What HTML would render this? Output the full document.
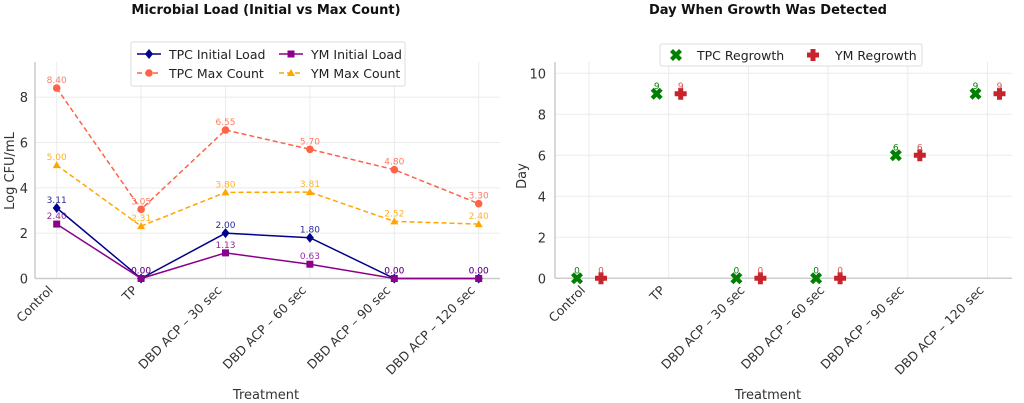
<!DOCTYPE html>
<html><head><meta charset="utf-8"><style>
html,body{margin:0;padding:0;background:#fff;}
svg{display:block;font-family:"DejaVu Sans","Liberation Sans",sans-serif;}
</style></head><body>
<svg id="c" width="1024" height="403" viewBox="0 0 1024 403">
<text x="266" y="14" text-anchor="middle" font-size="13" font-weight="bold" fill="#111">Microbial Load (Initial vs Max Count)</text>
<text x="768" y="14" text-anchor="middle" font-size="13" font-weight="bold" fill="#111">Day When Growth Was Detected</text>
<g id="L"></g><g id="R"></g>
</svg>
<script>
const categories=["Control","TP","DBD ACP – 30 sec","DBD ACP – 60 sec","DBD ACP – 90 sec","DBD ACP – 120 sec"];
const tpcInitial=[3.11,0.00,2.00,1.80,0.00,0.00];
const ymInitial=[2.40,0.00,1.13,0.63,0.00,0.00];
const tpcMax=[8.40,3.05,6.55,5.70,4.80,3.30];
const ymMax=[5.00,2.31,3.80,3.81,2.52,2.40];
const tpcRegrowth=[0,9,0,0,6,9];
const ymRegrowth=[0,9,0,0,6,9];
const leftTicks=[0,2,4,6,8];
const rightTicks=[0,2,4,6,8,10];
const NS="http://www.w3.org/2000/svg";
function mk(p,t,a,txt){const e=document.createElementNS(NS,t);for(const k in a)e.setAttribute(k,a[k]);if(txt!==undefined)e.textContent=txt;p.appendChild(e);return e;}
// left
const L=document.getElementById('L');
const lx=i=>56.7+i*84.4, ly=v=>278.5-v*22.67;
leftTicks.forEach(t=>{let g=mk(L,'line',{x1:35,x2:500,y1:ly(t),y2:ly(t),stroke:'#ebebeb'});


let tx=mk(L,'text',{x:28,y:ly(t)+5,'text-anchor':'end','font-size':13,fill:'#333'},t);

});
categories.forEach((c,i)=>{let g=mk(L,'line',{x1:lx(i),x2:lx(i),y1:62,y2:278.5,stroke:'#ebebeb'});


let tx=mk(L,'text',{x:0,y:0,'text-anchor':'end','font-size':12.5,fill:'#333',transform:`translate(${lx(i)-3},${291}) rotate(-45)`},c);

});
mk(L,'line',{x1:35,x2:500,y1:278.5,y2:278.5,stroke:'#ccc','stroke-width':1.5});
mk(L,'line',{x1:35,x2:35,y1:62,y2:278.5,stroke:'#ccc','stroke-width':1.5});
let yt=mk(L,'text',{x:0,y:0,'text-anchor':'middle','font-size':13,fill:'#333',transform:'translate(14,171) rotate(-90)'},'Log CFU/mL');

let xt=mk(L,'text',{x:266,y:399,'text-anchor':'middle','font-size':13,fill:'#333'},'Treatment');

function marker(p,type,x,y,col){
 if(type==='d')return mk(p,'path',{d:`M${x} ${y-5}L${x+4} ${y}L${x} ${y+5}L${x-4} ${y}Z`,fill:col});
 if(type==='s')return mk(p,'rect',{x:x-3.5,y:y-3.5,width:7,height:7,fill:col});
 if(type==='o')return mk(p,'circle',{cx:x,cy:y,r:3.8,fill:col});
 if(type==='^')return mk(p,'path',{d:`M${x} ${y-4}L${x+4} ${y+3}L${x-4} ${y+3}Z`,fill:col});
}
const series=[[tpcMax,'#ff6347','o','5,3','tpc-max'],[ymMax,'#ffa500','^','5,3','ym-max'],[tpcInitial,'#00008b','d','','tpc-initial'],[ymInitial,'#8b008b','s','','ym-initial']];
series.forEach(([vals,col,m,dash,nm])=>{
 let pl=mk(L,'polyline',{points:vals.map((v,i)=>lx(i)+','+ly(v)).join(' '),fill:'none',stroke:col,'stroke-width':1.5,'stroke-dasharray':dash});
 
 vals.forEach((v,i)=>{let mm=marker(L,m,lx(i),ly(v),col);
 
 let t=mk(L,'text',{x:lx(i),y:ly(v)-5,'text-anchor':'middle','font-size':9,fill:col,opacity:0.85},v.toFixed(2));
 });
});
// left legend
const lg=mk(L,'g',{});
mk(lg,'rect',{x:131,y:42,width:274,height:44,fill:'#fff',stroke:'#ddd',rx:2});
[['TPC Initial Load','#00008b','d','',137,54],['TPC Max Count','#ff6347','o','5,3',137,73],['YM Initial Load','#8b008b','s','',279,54],['YM Max Count','#ffa500','^','5,3',279,73]].forEach(([t,c,m,d,x,y])=>{
 mk(lg,'line',{x1:x,x2:x+24,y1:y,y2:y,stroke:c,'stroke-width':1.5,'stroke-dasharray':d});marker(lg,m,x+12,y,c);
 let e=mk(lg,'text',{x:x+32,y:y+5,'font-size':12.5,fill:'#222'},t);
 });
// right
const R=document.getElementById('R');
const rx=i=>589+i*79.7, ry=v=>278.3-v*20.5;
rightTicks.forEach(t=>{let g=mk(R,'line',{x1:555,x2:1012,y1:ry(t),y2:ry(t),stroke:'#ebebeb'});

let tx=mk(R,'text',{x:546,y:ry(t)+5,'text-anchor':'end','font-size':13,fill:'#333'},t);
});
categories.forEach((c,i)=>{let g=mk(R,'line',{x1:rx(i),x2:rx(i),y1:62,y2:278.3,stroke:'#ebebeb'});

let tx=mk(R,'text',{x:0,y:0,'text-anchor':'end','font-size':12.5,fill:'#333',transform:`translate(${rx(i)-3},${291}) rotate(-45)`},c);
});
mk(R,'line',{x1:555,x2:1012,y1:278.3,y2:278.3,stroke:'#ccc','stroke-width':1.5});
mk(R,'line',{x1:555,x2:555,y1:62,y2:278.3,stroke:'#ccc','stroke-width':1.5});
let yt2=mk(R,'text',{x:0,y:0,'text-anchor':'middle','font-size':13,fill:'#333',transform:'translate(526,176) rotate(-90)'},'Day');

let xt2=mk(R,'text',{x:768,y:399,'text-anchor':'middle','font-size':13,fill:'#333'},'Treatment');

function xmark(p,x,y,col){return mk(p,'path',{d:`M${x-6} ${y-3}L${x-3} ${y-6}L${x} ${y-3}L${x+3} ${y-6}L${x+6} ${y-3}L${x+3} ${y}L${x+6} ${y+3}L${x+3} ${y+6}L${x} ${y+3}L${x-3} ${y+6}L${x-6} ${y+3}L${x-3} ${y}Z`,fill:col});}
function pmark(p,x,y,col){return mk(p,'path',{d:`M${x-2.5} ${y-6}h5v3.5h3.5v5h-3.5v3.5h-5v-3.5h-3.5v-5h3.5Z`,fill:col});}
tpcRegrowth.forEach((v,i)=>{let m=xmark(R,rx(i)-12,ry(v),'#008000');

let t=mk(R,'text',{x:rx(i)-12,y:ry(v)-5,'text-anchor':'middle','font-size':9,fill:'#008000'},v);
});
ymRegrowth.forEach((v,i)=>{let m=pmark(R,rx(i)+12,ry(v),'#c8242b');

let t=mk(R,'text',{x:rx(i)+12,y:ry(v)-5,'text-anchor':'middle','font-size':9,fill:'#d9534f'},v);
});
const rg=mk(R,'g',{});
mk(rg,'rect',{x:660,y:44,width:262,height:22,fill:'#fff',stroke:'#ddd',rx:2});
xmark(rg,676,55,'#008000');
let e1=mk(rg,'text',{x:697,y:60,'font-size':12.5,fill:'#222'},'TPC Regrowth');
pmark(rg,813,55,'#c8242b');
let e2=mk(rg,'text',{x:835,y:60,'font-size':12.5,fill:'#222'},'YM Regrowth');
</script>
</body></html>
